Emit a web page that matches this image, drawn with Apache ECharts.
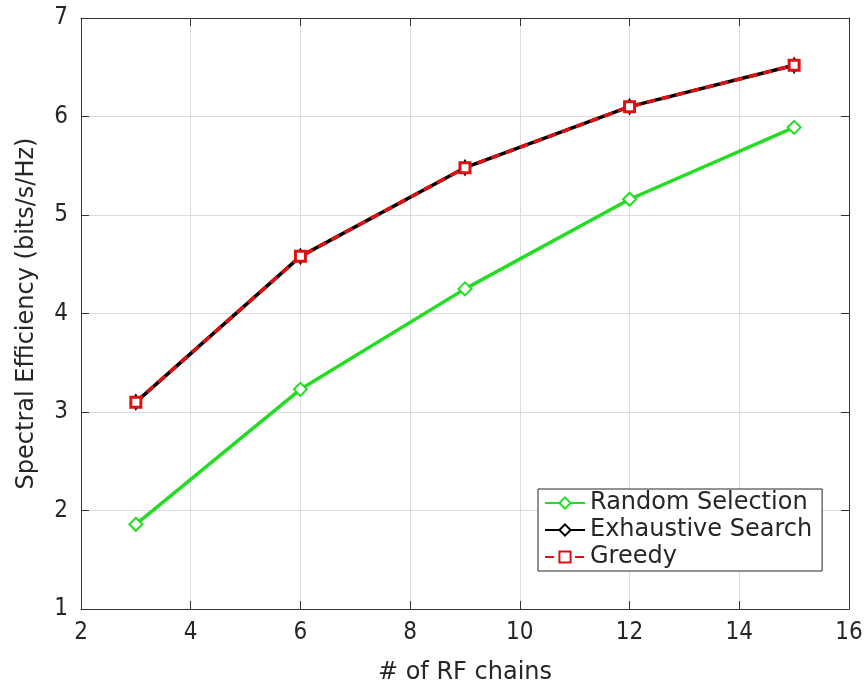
<!DOCTYPE html>
<html><head><meta charset="utf-8">
<script src="https://cdn.jsdelivr.net/npm/echarts@6/dist/echarts.min.js"></script>
<style>html,body{margin:0;padding:0;background:#fff}#c{width:867px;height:687px}</style>
</head><body><div id="c"></div>
<script>
const rfChains = [3, 6, 9, 12, 15];
const randomSel = [1.86, 3.23, 4.25, 5.16, 5.89];
const exhaustive = [3.10, 4.58, 5.48, 6.10, 6.52];
const greedy = [3.10, 4.58, 5.48, 6.10, 6.52];
const xTicks = [2, 4, 6, 8, 10, 12, 14, 16];
const yTicks = [1, 2, 3, 4, 5, 6, 7];

const pair = (xs, ys) => xs.map((x, i) => [x, ys[i]]);
const tickFont = {fontFamily: 'DejaVu Sans Condensed, DejaVu Sans', fontSize: 24, color: '#262626'};
const axisCol = '#333333';
const chart = echarts.init(document.getElementById('c'));
chart.setOption({
  animation: false,
  backgroundColor: '#fff',
  grid: {left: 81, right: 18, top: 18, bottom: 78, outerBoundsMode: 'none', containLabel: false},
  xAxis: [{
    type: 'value', min: xTicks[0], max: xTicks[xTicks.length-1], interval: 2,
    name: '# of RF chains', nameLocation: 'middle', nameGap: 52,
    nameTextStyle: {fontFamily: 'DejaVu Sans', fontSize: 24, color: '#262626'},
    axisLine: {show: true, lineStyle: {color: axisCol, width: 1}},
    axisTick: {show: true, inside: true, length: 8, lineStyle: {color: axisCol}},
    axisLabel: Object.assign({margin: 12}, tickFont),
    splitLine: {show: true, lineStyle: {color: '#dcdcdc', width: 1}}
  }, {
    type: 'value', position: 'top', min: xTicks[0], max: xTicks[xTicks.length-1], interval: 2,
    axisLine: {show: true, lineStyle: {color: axisCol, width: 1}},
    axisTick: {show: true, inside: true, length: 8, lineStyle: {color: axisCol}},
    axisLabel: {show: false}, splitLine: {show: false}
  }],
  yAxis: [{
    type: 'value', min: yTicks[0], max: yTicks[yTicks.length-1], interval: 1,
    name: 'Spectral Efficiency (bits/s/Hz)', nameLocation: 'middle', nameGap: 42,
    nameTextStyle: {fontFamily: 'DejaVu Sans', fontSize: 24, color: '#262626'},
    axisLine: {show: true, lineStyle: {color: axisCol, width: 1}},
    axisTick: {show: true, inside: true, length: 8, lineStyle: {color: axisCol}},
    axisLabel: Object.assign({margin: 13}, tickFont),
    splitLine: {show: true, lineStyle: {color: '#dcdcdc', width: 1}}
  }, {
    type: 'value', position: 'right', min: yTicks[0], max: yTicks[yTicks.length-1], interval: 1,
    axisLine: {show: true, lineStyle: {color: axisCol, width: 1}},
    axisTick: {show: true, inside: true, length: 8, lineStyle: {color: axisCol}},
    axisLabel: {show: false}, splitLine: {show: false}
  }],
  legend: {
    orient: 'vertical', left: 538, top: 489, itemGap: 3, itemWidth: 40, itemHeight: 14,
    padding: [2, 10, 2, 6],
    backgroundColor: '#fff', borderColor: '#262626', borderWidth: 1, borderRadius: 0,
    textStyle: {fontFamily: 'DejaVu Sans', fontSize: 24, color: '#262626', padding: [0, 0, 0, 0]},
    data: ['Random Selection', 'Exhaustive Search', 'Greedy']
  },
  series: [{
    name: 'Random Selection', type: 'line', data: pair(rfChains, randomSel),
    symbol: 'diamond', symbolSize: 13,
    lineStyle: {color: '#22dd22', width: 3.5}, itemStyle: {color: '#fff', borderColor: '#22dd22', borderWidth: 2},
    color: '#22dd22'
  }, {
    name: 'Exhaustive Search', type: 'line', data: pair(rfChains, exhaustive),
    symbol: 'diamond', symbolSize: [8, 14],
    lineStyle: {color: '#000', width: 3.5}, itemStyle: {color: '#fff', borderColor: '#000', borderWidth: 2},
    color: '#000'
  }, {
    name: 'Greedy', type: 'line', data: pair(rfChains, greedy),
    symbol: 'rect', symbolSize: 10,
    lineStyle: {color: '#dd1111', width: 3.5, type: [9, 6]}, itemStyle: {color: '#fff', borderColor: '#dd1111', borderWidth: 3},
    color: '#dd1111'
  }]
});
</script></body></html>
